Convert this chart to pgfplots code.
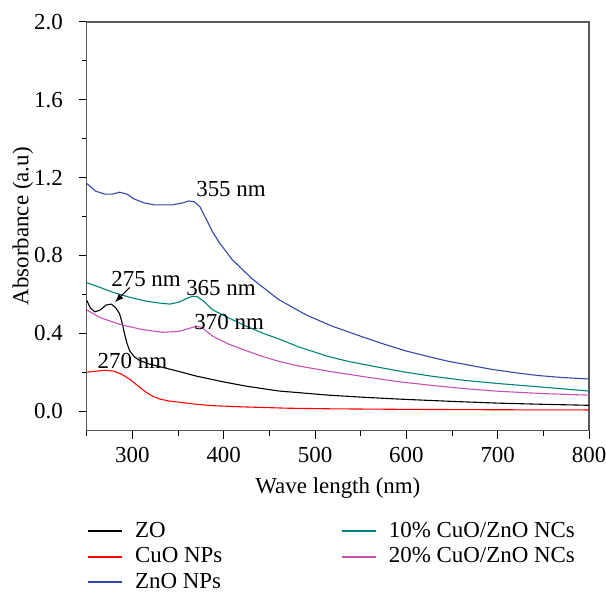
\documentclass[border=0pt]{standalone}
\usepackage{pgfplots}
\pgfplotsset{compat=1.18}
\usepackage{fontspec}
\setmainfont{Liberation Serif}
\definecolor{zoblue}{RGB}{50,72,170}
\definecolor{zoteal}{RGB}{0,130,120}
\definecolor{zomag}{RGB}{200,80,180}
\begin{document}
\begin{tikzpicture}
\begin{axis}[
    name=ax,
    scale only axis,
    width=252pt, height=205pt,
    xmin=250, xmax=800,
    ymin=-0.1, ymax=2.0,
    xtick={300,400,...,800},
    minor xtick={250,350,...,750},
    ytick={0,0.4,...,2.0},
    minor ytick={0.2,0.6,1.0,1.4,1.8},
    yticklabel style={xshift=-4.5pt},
    y tick label style={/pgf/number format/.cd,fixed,fixed zerofill,precision=1},
    xticklabel style={yshift=-1pt},
    xtick pos=left, ytick pos=left,
    tick align=outside,
    major tick length=4pt, minor tick length=2.5pt,
    axis line style={gray!70!black, line width=0.6pt},
    tick style={black, line width=0.5pt},
    /pgf/number format/assume math mode=true,
    font=\fontsize{11.5}{13}\selectfont,
    xlabel={Wave length (nm)},
    ylabel={Absorbance (a.u)},
    xlabel style={yshift=-0.5pt},
    ylabel style={yshift=-6.5pt},
    legend columns=2,
    legend cell align=left,
    legend style={draw=none, at={(0,-0.203)}, anchor=north west, xshift=-3pt,
        font=\fontsize{11.5}{13}\selectfont,
        /tikz/column 1/.append style={column sep=4pt},
        /tikz/column 2/.append style={column sep=57.5pt},
        /tikz/column 3/.append style={column sep=4pt},
        row sep=-0.3pt},
    legend image post style={line width=1pt},
    every axis plot/.append style={line width=0.55pt},
    clip=true,
]
% ZO
\addplot[black] coordinates {
 (250,0.57) (254,0.53) (259,0.51) (265,0.52) (271,0.545) (277,0.55) (282,0.53)
 (286,0.50) (289,0.45) (291,0.405) (294,0.35) (297,0.31) (302,0.28) (308,0.26)
 (320,0.24) (333,0.225) (350,0.205) (370,0.18) (400,0.15) (425,0.128) (461,0.103)
 (482,0.095) (515,0.082) (550,0.072) (591,0.062) (650,0.05) (701,0.041) (750,0.035) (800,0.03)
};
\addlegendentry{ZO}
% 10% CuO/ZnO
\addplot[zoteal] coordinates {
 (250,0.66) (265,0.635) (279,0.61) (297,0.585) (315,0.565) (330,0.555) (341,0.55)
 (351,0.56) (360,0.58) (366,0.59) (371,0.588) (378,0.565) (388,0.52) (405,0.48)
 (425,0.436) (443,0.40) (461,0.37) (482,0.33) (515,0.28) (537,0.255) (570,0.225)
 (599,0.20) (630,0.178) (664,0.158) (700,0.142) (737,0.128) (770,0.115) (800,0.103)
};
\addlegendentry{10\% CuO/ZnO NCs}
% CuO NPs
\addplot[red] coordinates {
 (250,0.20) (260,0.205) (270,0.21) (280,0.205) (288,0.19) (297,0.164) (306,0.13)
 (315,0.097) (322,0.077) (330,0.062) (340,0.052) (351,0.046) (370,0.035) (388,0.028)
 (420,0.022) (470,0.015) (515,0.012) (600,0.009) (700,0.007) (800,0.006)
};
\addlegendentry{CuO NPs}
% 20% CuO/ZnO
\addplot[zomag] coordinates {
 (250,0.52) (265,0.48) (286,0.446) (310,0.42) (333,0.405) (351,0.41) (362,0.425)
 (370,0.436) (376,0.43) (388,0.385) (405,0.345) (425,0.31) (443,0.28) (461,0.255)
 (482,0.232) (515,0.205) (555,0.176) (590,0.152) (628,0.132) (665,0.115) (701,0.102)
 (750,0.09) (800,0.082)
};
\addlegendentry{20\% CuO/ZnO NCs}
% ZnO NPs
\addplot[zoblue] coordinates {
 (250,1.17) (260,1.13) (270,1.115) (278,1.115) (286,1.125) (294,1.115) (302,1.09)
 (313,1.07) (324,1.06) (344,1.06) (355,1.07) (362,1.08) (368,1.075) (374,1.05)
 (381,0.985) (388,0.92) (395,0.867) (409,0.78) (431,0.68) (460,0.574) (490,0.495)
 (518,0.438) (548,0.388) (575,0.345) (599,0.31) (620,0.285) (646,0.256) (670,0.235)
 (693,0.215) (720,0.197) (744,0.183) (770,0.173) (800,0.165)
};
\addlegendentry{ZnO NPs}
\node at (axis cs:408,1.14) {355 nm};
\node at (axis cs:397,0.635) {365 nm};
\node at (axis cs:406,0.46) {370 nm};
\node at (axis cs:315,0.68) {275 nm};
\node at (axis cs:300,0.26) {270 nm};
\draw[-latex, line width=0.5pt] (axis cs:297,0.635) -- (axis cs:281,0.56);
\end{axis}
% frame the page like the reference figure
\pgfresetboundingbox
\path[use as bounding box] ([xshift=-43.5pt,yshift=-81pt]ax.south west)
    rectangle ([xshift=8.5pt,yshift=11pt]ax.north east);
\end{tikzpicture}
\end{document}
